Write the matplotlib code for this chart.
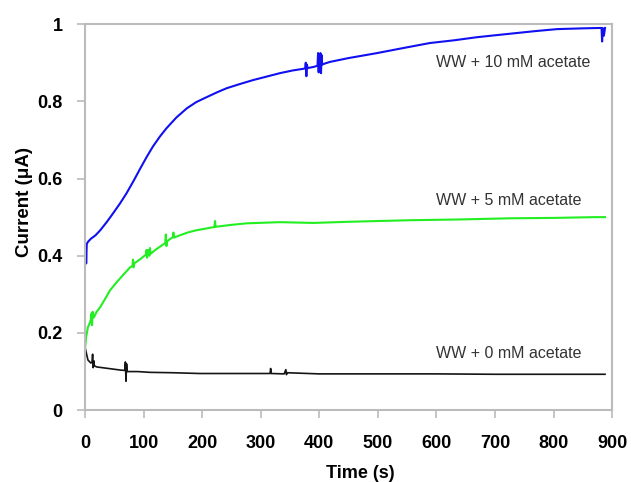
import matplotlib
matplotlib.use("Agg")
import matplotlib.pyplot as plt
from matplotlib import font_manager

names = {f.name for f in font_manager.fontManager.ttflist}
base_font = "Liberation Sans" if "Liberation Sans" in names else "DejaVu Sans"
narrow_font = "Liberation Sans Narrow" if "Liberation Sans Narrow" in names else base_font

# ---- data ----
blue_t = [1, 1.5, 2, 3, 5, 10, 18, 26, 37, 48, 60, 71, 83, 94, 105, 116, 128, 139, 156, 174,
          190, 208, 225, 242, 265, 287, 310, 333, 355, 376, 377, 378, 379, 380, 390, 397, 398,
          399, 400, 401, 402, 403, 404, 405, 406, 418, 450, 499, 540, 589, 630, 669, 700, 738,
          770, 806, 850, 880, 882, 883, 884, 886, 888]
blue_y = [0.39, 0.42, 0.38, 0.43, 0.436, 0.444, 0.453, 0.466, 0.487, 0.51, 0.536, 0.562, 0.594,
          0.625, 0.655, 0.683, 0.709, 0.73, 0.758, 0.782, 0.798, 0.811, 0.823, 0.834, 0.845,
          0.855, 0.864, 0.873, 0.88, 0.885, 0.90, 0.865, 0.895, 0.886, 0.889, 0.892, 0.925,
          0.875, 0.92, 0.88, 0.925, 0.873, 0.92, 0.895, 0.896, 0.902, 0.912, 0.925, 0.937,
          0.951, 0.958, 0.966, 0.971, 0.977, 0.982, 0.987, 0.989, 0.99, 0.99, 0.955, 0.99,
          0.97, 0.99]

green_t = [0.5, 2, 5, 8, 10, 11, 12, 13, 15, 20, 26, 35, 43, 55, 65, 77, 81, 82, 83, 84, 95,
           104, 105, 106, 108, 110, 111, 112, 120, 137, 138, 139, 140, 145, 150, 151, 152, 162,
           175, 190, 205, 219, 221, 222, 223, 250, 276, 333, 390, 450, 555, 640, 726, 800, 870,
           888]
green_y = [0.165, 0.19, 0.215, 0.225, 0.235, 0.25, 0.22, 0.255, 0.24, 0.255, 0.267, 0.29, 0.311,
           0.333, 0.35, 0.37, 0.373, 0.39, 0.37, 0.38, 0.392, 0.403, 0.415, 0.395, 0.415, 0.40,
           0.42, 0.405, 0.415, 0.433, 0.455, 0.425, 0.437, 0.443, 0.448, 0.46, 0.447, 0.453,
           0.46, 0.466, 0.47, 0.474, 0.474, 0.49, 0.475, 0.48, 0.484, 0.487, 0.485, 0.488,
           0.492, 0.494, 0.497, 0.498, 0.5, 0.5]

black_t = [0.5, 2, 5, 10, 12, 13, 14, 15, 16, 20, 30, 45, 60, 68, 69, 70, 71, 72, 90, 111, 150,
           196, 250, 316, 317, 318, 340, 343, 344, 345, 400, 500, 600, 700, 800, 888]
black_y = [0.16, 0.15, 0.13, 0.122, 0.125, 0.145, 0.11, 0.128, 0.115, 0.112, 0.11, 0.107, 0.104,
           0.103, 0.125, 0.075, 0.12, 0.1, 0.1, 0.098, 0.097, 0.095, 0.095, 0.095, 0.108, 0.095,
           0.094, 0.105, 0.092, 0.097, 0.094, 0.094, 0.094, 0.093, 0.093, 0.093]

labels = ["WW + 10 mM acetate", "WW + 5 mM acetate", "WW + 0 mM acetate"]
label_pos = [(600, 0.90), (600, 0.544), (600, 0.148)]

x_ticks = [0, 100, 200, 300, 400, 500, 600, 700, 800, 900]
y_ticks = [0, 0.2, 0.4, 0.6, 0.8, 1]
y_ticklabels = ["0", "0.2", "0.4", "0.6", "0.8", "1"]

# ---- figure ----
fig = plt.figure(figsize=(6.31, 4.82), dpi=100)
ax = fig.add_axes([0.1347, 0.149, 0.8353, 0.801])

ax.plot(blue_t, blue_y, color="#1010f0", lw=1.5)
ax.plot(green_t, green_y, color="#22ee22", lw=1.5)
ax.plot(black_t, black_y, color="#151515", lw=1.2)

for txt, (tx, ty) in zip(labels, label_pos):
    ax.text(tx, ty, txt, fontsize=11.5, family=narrow_font, color="#333333",
            ha="left", va="center")

ax.set_xlim(0, 900)
ax.set_ylim(0, 1)
ax.set_xticks(x_ticks)
ax.set_xticklabels([str(v) for v in x_ticks])
ax.set_yticks(y_ticks)
ax.set_yticklabels(y_ticklabels)

for lab in ax.get_xticklabels() + ax.get_yticklabels():
    lab.set_fontfamily(base_font)
    lab.set_fontweight("bold")
    lab.set_fontsize(13)

for s in ax.spines.values():
    s.set_color("#bbbbbb")
    s.set_linewidth(1.5)

ax.tick_params(axis="both", direction="out", length=6, width=1.2, color="#bbbbbb",
               labelcolor="black")
ax.tick_params(axis="x", pad=12)
ax.tick_params(axis="y", pad=10)

ax.set_xlabel("Time (s)", fontsize=13, fontweight="bold", family=base_font)
ax.set_ylabel("Current (\u03bcA)", fontsize=13.5, fontweight="bold", family=base_font)
ax.xaxis.set_label_coords(0.522, -0.142)
ax.yaxis.set_label_coords(-0.099, 0.539)

fig.savefig("out.png", dpi=100)
